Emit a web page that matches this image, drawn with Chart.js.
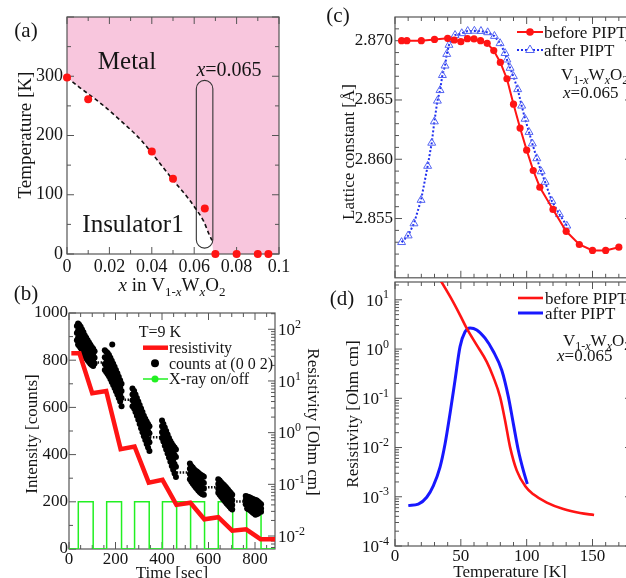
<!DOCTYPE html>
<html>
<head>
<meta charset="utf-8">
<title>V1-xWxO2 photo-induced phase transition</title>
<script src="https://cdn.jsdelivr.net/npm/chart.js@4.4.1/dist/chart.umd.min.js"></script>
<style>
  html, body { margin: 0; padding: 0; background: #fff; }
  #fig { position: relative; width: 626px; height: 578px; overflow: hidden; background: #fff; }
  #fig canvas { position: absolute; }
</style>
</head>
<body>
<div id="fig">
  <canvas id="chartA" width="320" height="300" style="left:0px;top:0px;width:320px;height:300px"></canvas>
  <canvas id="chartB" width="330" height="303" style="left:0px;top:275px;width:330px;height:303px"></canvas>
  <canvas id="chartC" width="320" height="290" style="left:320px;top:0px;width:320px;height:290px"></canvas>
  <canvas id="chartD" width="320" height="303" style="left:320px;top:275px;width:320px;height:303px"></canvas>
</div>
<script>
// ---- (a) phase diagram ----
const tcX = [0, 0.01, 0.04, 0.05, 0.065, 0.07, 0.08, 0.09, 0.095];
const tcT = [298, 261, 173, 127, 77, 0, 0, 0, 0];
const edgeX = [0, 0.006, 0.016, 0.025, 0.035, 0.0425, 0.05, 0.0565, 0.061, 0.0645, 0.0668, 0.0684];
const edgeT = [298, 281, 254, 226, 192, 159, 125, 97, 75, 55, 35, 23];
const metalFloorX = [0.0692, 0.1];
const metalFloorT = [0, 0];
const windowX = [0.061, 0.0688];
const windowT = [10, 293];
const aXTicks = [0, 0.02, 0.04, 0.06, 0.08, 0.1];
const aYTicks = [0, 100, 200, 300];

// ---- (b) time dependence at 9 K ----
const resTime = [10, 45, 100, 160, 222, 282, 343, 402, 462, 522, 582, 642, 702, 762, 824, 886];
const resValue = [34.4, 34.4, 5.8, 6.4, 0.48, 0.54, 0.108, 0.122, 0.040, 0.044, 0.0211, 0.0231, 0.0127, 0.0135, 0.0087, 0.0087];
const xrayTime = [0, 40, 40, 104, 104, 162, 162, 226, 226, 282, 282, 345, 345, 402, 402, 463, 463, 463, 523, 523, 523, 583, 583, 642, 642, 704, 704, 764, 764, 826, 826, 886];
const xrayLevel = [0, 0, 200, 200, 0, 0, 200, 200, 0, 0, 200, 200, 0, 0, 200, 200, 0, 200, 200, 0, 200, 200, 0, 0, 200, 200, 0, 0, 200, 200, 0, 0];
const darkStart = [110, 226, 348, 463, 585, 706];
const darkEnd = [154, 273, 398, 520, 642, 757];
const darkLevel = [790, 632, 473, 324, 262, 201];
const countsRun1 = [[34,945],[34,915],[34,885],[39,955],[39,925],[39,895],[39,866],[44,950],[44,920],[44,890],[44,860],[50,942],[50,912],[50,882],[50,852],[56,930],[56,900],[56,870],[56,842],[62,918],[62,888],[62,858],[62,830],[68,905],[68,875],[68,845],[68,818],[74,895],[74,865],[74,835],[74,808],[80,885],[80,855],[80,825],[80,800],[86,875],[86,845],[86,815],[86,792],[92,865],[92,835],[92,808],[92,785],[98,856],[98,828],[98,800],[98,780],[104,848],[104,820],[104,795],[104,775],[110,838],[110,810],[110,786]];
const countsRun2 = [[154,842],[154,812],[154,784],[154,758],[160,836],[160,806],[160,778],[160,750],[166,830],[166,800],[166,770],[166,742],[172,822],[172,792],[172,762],[172,732],[178,810],[178,780],[178,750],[178,720],[184,798],[184,768],[184,738],[184,708],[190,785],[190,755],[190,725],[190,695],[196,772],[196,742],[196,712],[196,682],[202,758],[202,728],[202,698],[202,668],[208,745],[208,715],[208,685],[208,655],[214,730],[214,700],[214,670],[214,640],[220,715],[220,685],[220,655],[220,625],[226,700],[226,670],[226,640],[226,605],[186,866]];
const countsRun3 = [[273,680],[273,655],[273,630],[273,605],[280,670],[280,645],[280,620],[280,595],[286,655],[286,630],[286,605],[286,580],[292,640],[292,615],[292,590],[292,565],[298,625],[298,600],[298,575],[298,548],[304,610],[304,585],[304,558],[304,530],[310,595],[310,570],[310,542],[310,512],[316,580],[316,555],[316,525],[316,495],[322,565],[322,540],[322,510],[322,478],[328,552],[328,525],[328,495],[328,462],[334,540],[334,512],[334,480],[334,445],[340,530],[340,500],[340,465],[340,430],[346,520],[346,490],[346,452],[346,415]];
const countsRun4 = [[400,545],[400,520],[400,495],[400,470],[406,530],[406,505],[406,480],[406,455],[412,515],[412,490],[412,465],[412,438],[418,500],[418,475],[418,450],[418,422],[424,485],[424,460],[424,435],[424,405],[430,470],[430,445],[430,418],[430,388],[436,458],[436,432],[436,403],[436,370],[442,447],[442,420],[442,388],[442,352],[448,438],[448,408],[448,374],[448,336],[454,430],[454,398],[454,360],[454,320],[460,422],[460,390],[460,348],[460,305]];
const countsRun5 = [[520,362],[520,340],[520,318],[520,296],[526,352],[526,330],[526,308],[526,286],[532,345],[532,322],[532,300],[532,278],[538,338],[538,315],[538,292],[538,270],[544,332],[544,308],[544,285],[544,262],[550,328],[550,303],[550,278],[550,255],[556,323],[556,298],[556,272],[556,248],[562,318],[562,293],[562,266],[562,242],[568,314],[568,288],[568,262],[568,236],[574,310],[574,284],[574,258],[574,232],[580,306],[580,280],[580,255],[580,230]];
const countsRun6 = [[642,296],[642,275],[642,255],[642,238],[648,290],[648,268],[648,248],[648,230],[654,283],[654,262],[654,242],[654,222],[660,277],[660,256],[660,236],[660,215],[666,271],[666,250],[666,229],[666,208],[672,265],[672,244],[672,222],[672,200],[678,258],[678,237],[678,215],[678,193],[684,251],[684,230],[684,208],[684,186],[690,244],[690,222],[690,200],[690,180],[696,237],[696,215],[696,193],[696,173],[702,230],[702,208],[702,186],[702,167]];
const countsRun7 = [[760,225],[760,208],[760,190],[766,222],[766,205],[766,188],[766,172],[772,220],[772,202],[772,185],[772,168],[778,218],[778,200],[778,182],[778,165],[784,215],[784,197],[784,179],[784,160],[790,212],[790,194],[790,175],[790,155],[796,210],[796,191],[796,172],[796,150],[802,208],[802,188],[802,168],[802,145],[808,205],[808,185],[808,165],[808,148],[814,200],[814,182],[814,163],[814,150],[820,195],[820,178],[820,160],[826,190],[826,172],[826,158]];
const bXTicks = [0, 200, 400, 600, 800];
const bYTicks = [0, 200, 400, 600, 800, 1000];
const bRightTicks = [1e2, 1e1, 1, 1e-1, 1e-2];

// ---- (c) lattice constant ----
const beforeT = [5, 9, 20, 30, 40, 45, 50, 55, 60, 65, 70, 75, 80, 85, 90, 95, 100, 105, 110, 120, 130, 140, 150, 160, 170];
const beforeA = [2.8700, 2.8700, 2.8700, 2.87011, 2.8702, 2.87006, 2.86992, 2.87017, 2.87015, 2.87000, 2.86978, 2.86917, 2.86817, 2.86679, 2.86465, 2.86263, 2.86077, 2.85905, 2.85764, 2.85577, 2.85392, 2.85281, 2.85231, 2.85231, 2.85258];
const afterT = [5, 10, 14.4, 19.8, 24.8, 27.9, 29.9, 32.2, 34.2, 36, 38, 39.3, 41, 45.6, 50.7, 55.2, 60.3, 65.3, 70.4, 75.5, 79.8, 83.6, 85, 87.4, 89.9, 93.2, 96.2, 98.8, 101.8, 104.3, 107.7, 111, 114, 119.1, 124.9, 130.5];
const afterA = [2.8530, 2.85356, 2.85458, 2.85656, 2.85943, 2.86138, 2.86318, 2.86493, 2.86582, 2.86709, 2.86789, 2.86887, 2.86964, 2.87047, 2.87062, 2.87081, 2.87083, 2.87081, 2.8707, 2.87039, 2.86978, 2.86895, 2.8684, 2.8677, 2.867, 2.8659, 2.86451, 2.8634, 2.86229, 2.86132, 2.86007, 2.85897, 2.85808, 2.85647, 2.85536, 2.85439];
const cYTicks = [2.855, 2.860, 2.865, 2.870];

// ---- (d) resistivity ----
const rhoBeforeT = [32, 34.2, 41.8, 49.4, 54.5, 62.1, 69.7, 74.7, 79.8, 83.6, 87.4, 92.5, 98.8, 105.1, 115.3, 127.9, 140.6, 151.2];
const rhoBefore = [32, 25.7, 11.7, 4.9, 2.63, 1.2, 0.55, 0.269, 0.107, 0.0355, 0.0102, 0.00339, 0.00166, 0.00112, 0.000759, 0.000562, 0.000468, 0.000427];
const rhoAfterT = [10.1, 17.7, 24.1, 29.1, 34.2, 38, 41.8, 45.6, 49.4, 53.2, 57, 62.1, 68.4, 74.7, 81.1, 86.1, 89.9, 93.7, 97.5, 100.5];
const rhoAfter = [0.000661, 0.000708, 0.000977, 0.00166, 0.00398, 0.01175, 0.049, 0.234, 1.12, 2.24, 2.69, 2.45, 1.66, 0.891, 0.372, 0.107, 0.0302, 0.0087, 0.00339, 0.00182];
const dXTicks = [0, 50, 100, 150];
const dYTicks = [1e1, 1, 1e-1, 1e-2, 1e-3, 1e-4];

const FONT = '"Liberation Serif", "Times New Roman", serif';
const INK = '#151515';
const FRAME = '#555555';
const RED = '#ff1414';
const GREEN = '#22f022';
const BLUE = '#1818ff';
const PINK = '#f8c6dd';

Chart.defaults.font.family = FONT;
Chart.defaults.color = INK;

function pts(xs, ys) { return xs.map((x, i) => ({ x: x, y: ys[i] })); }
function range(a, b, step) { const out = []; for (let v = a; v <= b + step / 1000; v += step) out.push(+v.toFixed(6)); return out; }
function logMinor(lo, hi) { const out = []; for (let e = lo; e <= hi; e++) for (let m = 2; m <= 9; m++) out.push(m * Math.pow(10, e)); return out; }
function fixedTicks(values) { return s => { s.ticks = values.map(v => ({ value: v })); }; }
const noGrid = { display: false, drawTicks: false };

// text with italic / sub / superscript parts, y is the visual middle
function rich(ctx, parts, x, y, size, align, rot) {
  ctx.save();
  ctx.translate(x, y);
  if (rot) ctx.rotate(rot);
  const small = Math.round(size * 0.68);
  const fontOf = f => (f.includes('i') ? 'italic ' : '') + ((f.includes('s') || f.includes('p')) ? small : size) + 'px ' + FONT;
  let w = 0;
  parts.forEach(([t, f = '']) => { ctx.font = fontOf(f); w += ctx.measureText(t).width; });
  let cx = align === 'center' ? -w / 2 : align === 'right' ? -w : 0;
  ctx.fillStyle = INK;
  ctx.textAlign = 'left';
  ctx.textBaseline = 'alphabetic';
  const base = size * 0.34;
  parts.forEach(([t, f = '']) => {
    ctx.font = fontOf(f);
    let dy = base;
    if (f.includes('s')) dy += size * 0.24;
    if (f.includes('p')) dy -= size * 0.42;
    ctx.fillText(t, cx, dy);
    cx += ctx.measureText(t).width;
  });
  ctx.restore();
}

const formula = [['V'], ['1-', 's'], ['x', 'si'], ['W'], ['x', 'si'], ['O'], ['2', 's']];

function drawFrame(chart, marks) {
  const { ctx, chartArea: a } = chart;
  ctx.save();
  ctx.strokeStyle = FRAME;
  ctx.lineWidth = 1.2;
  ctx.strokeRect(a.left, a.top, a.right - a.left, a.bottom - a.top);
  ctx.lineWidth = 1;
  ctx.beginPath();
  marks.forEach(m => {
    const s = chart.scales[m.axis];
    m.values.forEach(v => {
      const p = s.getPixelForValue(v);
      if (m.axis === 'x') {
        if (p < a.left - 0.5 || p > a.right + 0.5) return;
        if (m.sides.includes('bottom')) { ctx.moveTo(p, a.bottom); ctx.lineTo(p, a.bottom - m.len); }
        if (m.sides.includes('top')) { ctx.moveTo(p, a.top); ctx.lineTo(p, a.top + m.len); }
      } else {
        if (p < a.top - 0.5 || p > a.bottom + 0.5) return;
        if (m.sides.includes('left')) { ctx.moveTo(a.left, p); ctx.lineTo(a.left + m.len, p); }
        if (m.sides.includes('right')) { ctx.moveTo(a.right, p); ctx.lineTo(a.right - m.len, p); }
      }
    });
  });
  ctx.stroke();
  ctx.restore();
}

function framePlugin(marks, afterIndex) {
  return {
    id: 'frameTicks',
    beforeDatasetsDraw(chart) { if (afterIndex === undefined) drawFrame(chart, marks); },
    afterDatasetDraw(chart, args) { if (afterIndex === args.index) drawFrame(chart, marks); }
  };
}

function powLabels(chart, axis, values, x, align) {
  const s = chart.scales[axis];
  values.forEach(v => {
    const e = Math.round(Math.log10(v));
    rich(chart.ctx, [['10'], [String(e), 'p']], x, s.getPixelForValue(v), 17, align);
  });
}

const base = {
  responsive: false,
  animation: false,
  devicePixelRatio: 1,
  plugins: { legend: { display: false }, tooltip: { enabled: false } }
};

// ================= (a) =================
new Chart(document.getElementById('chartA'), {
  type: 'line',
  data: {
    datasets: [
      { data: pts(tcX, tcT), showLine: false, pointRadius: 4, pointBackgroundColor: RED, pointBorderWidth: 0, clip: false },
      { data: pts(edgeX, edgeT), borderColor: '#111', borderWidth: 1.6, borderDash: [4, 3], pointRadius: 0, cubicInterpolationMode: 'monotone', fill: false },
      { data: pts(edgeX.concat(metalFloorX), edgeT.concat(metalFloorT)), borderWidth: 0, borderColor: 'rgba(0,0,0,0)', pointRadius: 0, cubicInterpolationMode: 'monotone', fill: 'end', backgroundColor: PINK }
    ]
  },
  options: Object.assign({}, base, {
    layout: { padding: { top: 17, right: 41, left: 0, bottom: 0 } },
    scales: {
      x: {
        type: 'linear', min: 0, max: 0.1,
        grid: noGrid, border: { display: false },
        afterBuildTicks: fixedTicks(aXTicks),
        afterFit: s => { s.height = 46; },
        ticks: { font: { size: 18 }, color: INK, padding: 2, maxRotation: 0, autoSkip: false, callback: v => String(v) }
      },
      y: {
        type: 'linear', min: 0, max: 400,
        grid: noGrid, border: { display: false },
        afterBuildTicks: fixedTicks(aYTicks),
        afterFit: s => { s.width = 67; },
        ticks: { font: { size: 18 }, color: INK, padding: 4, callback: v => String(v) }
      }
    }
  }),
  plugins: [
    framePlugin([
      { axis: 'x', values: aXTicks, len: 7, sides: ['bottom', 'top'] },
      { axis: 'x', values: range(0.01, 0.09, 0.02), len: 4, sides: ['bottom', 'top'] },
      { axis: 'y', values: aYTicks.concat([400]), len: 7, sides: ['left', 'right'] },
      { axis: 'y', values: range(50, 350, 100), len: 4, sides: ['left', 'right'] }
    ], 2),
    {
      id: 'annotA',
      afterDatasetDraw(chart, args) {
        if (args.index !== 2) return;
        const { ctx, scales } = chart;
        const x0 = scales.x.getPixelForValue(windowX[0]);
        const x1 = scales.x.getPixelForValue(windowX[1]);
        const y0 = scales.y.getPixelForValue(windowT[1]);
        const y1 = scales.y.getPixelForValue(windowT[0]);
        const r = (x1 - x0) / 2;
        ctx.save();
        ctx.strokeStyle = '#333';
        ctx.lineWidth = 1.1;
        ctx.beginPath();
        ctx.moveTo(x0, y0 + r);
        ctx.arc(x0 + r, y0 + r, r, Math.PI, 0);
        ctx.lineTo(x1, y1 - r);
        ctx.arc(x0 + r, y1 - r, r, 0, Math.PI);
        ctx.closePath();
        ctx.stroke();
        ctx.restore();
      },
      afterDraw(chart) {
        const ctx = chart.ctx;
        rich(ctx, [['(a)']], 26, 30, 21, 'center');
        rich(ctx, [['Metal']], 127, 60, 25, 'center');
        rich(ctx, [['Insulator1']], 133, 223, 25, 'center');
        rich(ctx, [['x', 'i'], ['=0.065']], 229, 69, 20, 'center');
        rich(ctx, [['Temperature [K]']], 25, 135, 19, 'center', -Math.PI / 2);
        rich(ctx, [['x', 'i'], [' in ']].concat(formula), 172, 285, 19, 'center');
      }
    }
  ]
});

// ================= (b) =================
const darkSegments = [];
darkStart.forEach((t, i) => {
  darkSegments.push({ x: t, y: darkLevel[i] }, { x: darkEnd[i], y: darkLevel[i] }, { x: darkEnd[i], y: null });
});
const allCounts = countsRun1.concat(countsRun2, countsRun3, countsRun4, countsRun5, countsRun6, countsRun7)
  .map(p => ({ x: p[0], y: p[1] }));

new Chart(document.getElementById('chartB'), {
  type: 'line',
  data: {
    datasets: [
      { data: pts(resTime, resValue), yAxisID: 'y1', borderColor: RED, borderWidth: 4.5, pointRadius: 0, tension: 0 },
      { data: allCounts, showLine: false, pointRadius: 3, pointBackgroundColor: '#000', pointBorderWidth: 0 },
      { data: darkSegments, borderColor: '#111', borderWidth: 2.5, borderDash: [1.5, 1.5], pointRadius: 0, spanGaps: false },
      { data: pts(xrayTime, xrayLevel), borderColor: GREEN, borderWidth: 1.5, pointRadius: 0, tension: 0 }
    ]
  },
  options: Object.assign({}, base, {
    layout: { padding: { top: 38, right: 0, left: 0, bottom: 0 } },
    scales: {
      x: {
        type: 'linear', min: 0, max: 886,
        grid: noGrid, border: { display: false },
        afterBuildTicks: fixedTicks(bXTicks),
        afterFit: s => { s.height = 29; },
        ticks: { font: { size: 17 }, color: INK, padding: 0, maxRotation: 0, autoSkip: false, callback: v => String(v) }
      },
      y: {
        type: 'linear', position: 'left', min: 0, max: 1000,
        grid: noGrid, border: { display: false },
        afterBuildTicks: fixedTicks(bYTicks),
        afterFit: s => { s.width = 69; },
        ticks: { font: { size: 17 }, color: INK, padding: 1, callback: v => String(v) }
      },
      y1: {
        type: 'logarithmic', position: 'right', min: 0.00561, max: 206.5,
        grid: noGrid, border: { display: false },
        ticks: { display: false },
        afterFit: s => { s.width = 55; }
      }
    }
  }),
  plugins: [
    framePlugin([
      { axis: 'x', values: bXTicks, len: 7, sides: ['bottom', 'top'] },
      { axis: 'x', values: range(50, 850, 50).filter(v => v % 200 !== 0), len: 4, sides: ['bottom', 'top'] },
      { axis: 'y', values: bYTicks, len: 7, sides: ['left'] },
      { axis: 'y', values: range(100, 900, 200), len: 4, sides: ['left'] },
      { axis: 'y1', values: bRightTicks, len: 7, sides: ['right'] },
      { axis: 'y1', values: logMinor(-3, 2), len: 4, sides: ['right'] }
    ]),
    {
      id: 'annotB',
      afterDraw(chart) {
        const ctx = chart.ctx;
        powLabels(chart, 'y1', bRightTicks, 278, 'left');
        rich(ctx, [['(b)']], 26, 18, 21, 'center');
        rich(ctx, [['T=9 K']], 160, 57, 16, 'center');
        ctx.save();
        ctx.strokeStyle = RED; ctx.lineWidth = 4.5;
        ctx.beginPath(); ctx.moveTo(143, 72.7); ctx.lineTo(168, 72.7); ctx.stroke();
        ctx.fillStyle = '#000';
        ctx.beginPath(); ctx.arc(155, 88.3, 4, 0, Math.PI * 2); ctx.fill();
        ctx.strokeStyle = GREEN; ctx.lineWidth = 1.5;
        ctx.beginPath(); ctx.moveTo(143, 104); ctx.lineTo(168, 104); ctx.stroke();
        ctx.fillStyle = GREEN;
        ctx.beginPath(); ctx.arc(155, 104, 3.5, 0, Math.PI * 2); ctx.fill();
        ctx.restore();
        rich(ctx, [['resistivity']], 169, 72.7, 16, 'left');
        rich(ctx, [['counts at (0 0 2)']], 169, 88.3, 16, 'left');
        rich(ctx, [['X-ray on/off']], 169, 104, 16, 'left');
        rich(ctx, [['Intensity [counts]']], 31, 159, 17, 'center', -Math.PI / 2);
        rich(ctx, [['Resistivity [Ohm cm]']], 314, 147, 17, 'center', Math.PI / 2);
        rich(ctx, [['Time [sec]']], 172, 297, 17, 'center');
      }
    }
  ]
});

// ================= (c) =================
function triangle(ctx, x, y, r) {
  ctx.beginPath();
  ctx.moveTo(x, y - r);
  ctx.lineTo(x + r * 0.866, y + r * 0.5);
  ctx.lineTo(x - r * 0.866, y + r * 0.5);
  ctx.closePath();
}

new Chart(document.getElementById('chartC'), {
  type: 'line',
  data: {
    datasets: [
      { data: pts(beforeT, beforeA), borderColor: RED, borderWidth: 2, pointRadius: 3.6, pointBackgroundColor: RED, pointBorderWidth: 0, tension: 0 },
      { data: pts(afterT, afterA), borderColor: '#2030f0', borderWidth: 2, borderDash: [2, 2], pointStyle: 'triangle', pointRadius: 4.6, pointBorderColor: '#5565f2', pointBorderWidth: 1, pointBackgroundColor: 'rgba(255,255,255,0)', tension: 0 }
    ]
  },
  options: Object.assign({}, base, {
    layout: { padding: { top: 17, right: 8, left: 0, bottom: 0 } },
    scales: {
      x: {
        type: 'linear', min: 0, max: 180,
        grid: noGrid, border: { display: false },
        ticks: { display: false },
        afterFit: s => { s.height = 8; }
      },
      y: {
        type: 'linear', min: 2.850, max: 2.872,
        grid: noGrid, border: { display: false },
        afterBuildTicks: fixedTicks(cYTicks),
        afterFit: s => { s.width = 75; },
        ticks: { font: { size: 17 }, color: INK, padding: 2, callback: v => v.toFixed(3) }
      }
    }
  }),
  plugins: [
    framePlugin([
      { axis: 'x', values: dXTicks, len: 7, sides: ['bottom', 'top'] },
      { axis: 'x', values: range(10, 180, 10).filter(v => v % 50 !== 0), len: 4, sides: ['bottom', 'top'] },
      { axis: 'y', values: cYTicks, len: 7, sides: ['left', 'right'] },
      { axis: 'y', values: range(2.851, 2.871, 0.001).filter(v => Math.round(v * 1000) % 5 !== 0), len: 4, sides: ['left', 'right'] }
    ]),
    {
      id: 'annotC',
      afterDraw(chart) {
        const ctx = chart.ctx;
        ctx.save();
        ctx.strokeStyle = RED; ctx.lineWidth = 2;
        ctx.beginPath(); ctx.moveTo(197, 32); ctx.lineTo(223, 32); ctx.stroke();
        ctx.fillStyle = RED;
        ctx.beginPath(); ctx.arc(210, 32, 3.8, 0, Math.PI * 2); ctx.fill();
        ctx.strokeStyle = '#2030f0'; ctx.setLineDash([2, 2]);
        ctx.beginPath(); ctx.moveTo(197, 50); ctx.lineTo(223, 50); ctx.stroke();
        ctx.setLineDash([]);
        ctx.strokeStyle = '#5565f2'; ctx.lineWidth = 1; ctx.fillStyle = '#fff';
        triangle(ctx, 210, 50, 5); ctx.fill(); ctx.stroke();
        ctx.restore();
        rich(ctx, [['before PIPT']], 224, 32, 17, 'left');
        rich(ctx, [['after PIPT']], 224, 50, 17, 'left');
        rich(ctx, formula, 241, 74, 17, 'left');
        rich(ctx, [['x', 'i'], ['=0.065']], 243, 92, 17, 'left');
        rich(ctx, [['(c)']], 18, 15, 21, 'center');
        rich(ctx, [['Lattice constant [Å]']], 28, 152, 17, 'center', -Math.PI / 2);
      }
    }
  ]
});

// ================= (d) =================
new Chart(document.getElementById('chartD'), {
  type: 'line',
  data: {
    datasets: [
      { data: pts(rhoBeforeT, rhoBefore), borderColor: RED, borderWidth: 2.6, pointRadius: 0, cubicInterpolationMode: 'monotone' },
      { data: pts(rhoAfterT, rhoAfter), borderColor: BLUE, borderWidth: 3, pointRadius: 0, cubicInterpolationMode: 'monotone' }
    ]
  },
  options: Object.assign({}, base, {
    layout: { padding: { top: 7, right: 8, left: 0, bottom: 0 } },
    scales: {
      x: {
        type: 'linear', min: 0, max: 180,
        grid: noGrid, border: { display: false },
        afterBuildTicks: fixedTicks(dXTicks),
        afterFit: s => { s.height = 32; },
        ticks: { font: { size: 17 }, color: INK, padding: 0, maxRotation: 0, autoSkip: false, callback: v => String(v) }
      },
      y: {
        type: 'logarithmic', min: 1e-4, max: 23,
        grid: noGrid, border: { display: false },
        ticks: { display: false },
        afterFit: s => { s.width = 75; }
      }
    }
  }),
  plugins: [
    framePlugin([
      { axis: 'x', values: dXTicks, len: 7, sides: ['bottom', 'top'] },
      { axis: 'x', values: range(10, 180, 10).filter(v => v % 50 !== 0), len: 4, sides: ['bottom', 'top'] },
      { axis: 'y', values: dYTicks, len: 7, sides: ['left', 'right'] },
      { axis: 'y', values: logMinor(-4, 1), len: 4, sides: ['left', 'right'] }
    ]),
    {
      id: 'annotD',
      afterDraw(chart) {
        const ctx = chart.ctx;
        powLabels(chart, 'y', dYTicks, 69, 'right');
        ctx.save();
        ctx.lineWidth = 2.6;
        ctx.strokeStyle = RED;
        ctx.beginPath(); ctx.moveTo(198, 23); ctx.lineTo(223, 23); ctx.stroke();
        ctx.lineWidth = 3;
        ctx.strokeStyle = BLUE;
        ctx.beginPath(); ctx.moveTo(198, 38); ctx.lineTo(223, 38); ctx.stroke();
        ctx.restore();
        rich(ctx, [['before PIPT']], 225, 23, 17, 'left');
        rich(ctx, [['after PIPT']], 225, 38, 17, 'left');
        rich(ctx, formula, 243, 65, 17, 'left');
        rich(ctx, [['x', 'i'], ['=0.065']], 237, 80, 17, 'left');
        rich(ctx, [['(d)']], 22, 23, 21, 'center');
        rich(ctx, [['Resistivity [Ohm cm]']], 32, 139, 17, 'center', -Math.PI / 2);
        rich(ctx, [['Temperature [K]']], 190, 296, 17, 'center');
      }
    }
  ]
});
</script>
</body>
</html>
